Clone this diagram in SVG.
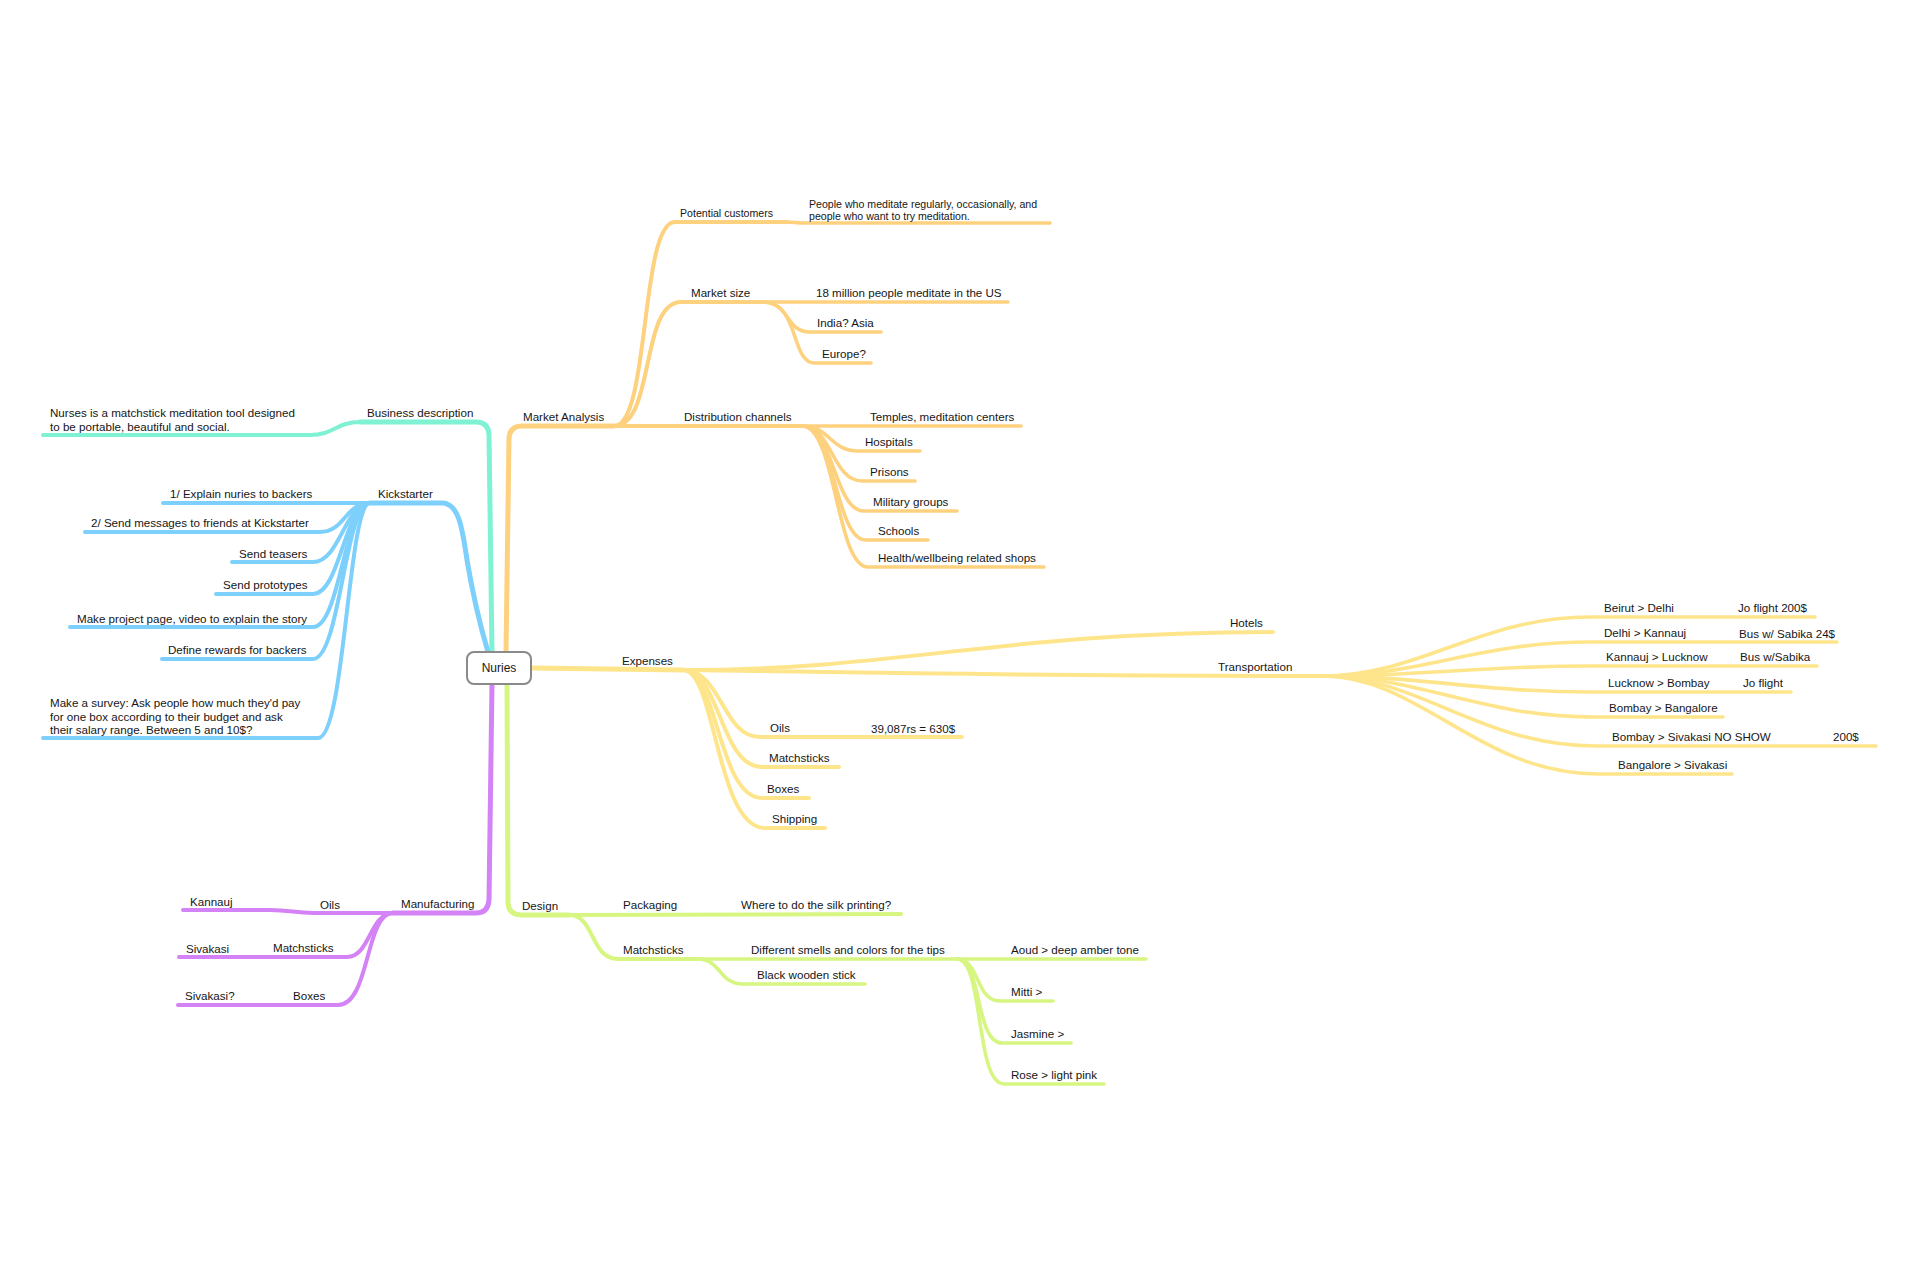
<svg xmlns="http://www.w3.org/2000/svg" width="1920" height="1280" viewBox="0 0 1920 1280">
<style>
text{font-family:"Liberation Sans",Arial,Helvetica,sans-serif;font-size:11.6px;fill:#161616}
.sm{font-size:10.6px}
.ln{fill:none;stroke-linecap:round;stroke-linejoin:round;stroke-width:4}
.l1{stroke-width:5}
.l3{stroke-width:3.6}
.teal{stroke:#7EF2D2}
.blue{stroke:#7DD0FB}
.orange{stroke:#FDD17E}
.yellow{stroke:#FEE58C}
.green{stroke:#D6F681}
.purple{stroke:#D483F6}
</style>
<rect width="1920" height="1280" fill="#ffffff"/>
<g id="connectors">
<!-- teal -->
<path class="ln l1 teal" d="M492 652 L489 434 Q488 422 476 422 L360 422"/>
<path class="ln teal" d="M360 422 C336 422 334 435 310 435 L43 435"/>
<!-- blue -->
<path class="ln l1 blue" d="M488 652 C480 625 472 590 467 560 C462 525 458 503 442 503 L370 503"/>
<path class="ln blue" d="M370 503 L163 503"/>
<path class="ln blue" d="M370 503 C345 503 345 532 320 532 L85 532"/>
<path class="ln blue" d="M370 503 C345 503 340 562 313 562 L232 562"/>
<path class="ln blue" d="M370 503 C345 503 340 594 313 594 L216 594"/>
<path class="ln blue" d="M370 503 C345 503 340 627 313 627 L70 627"/>
<path class="ln blue" d="M370 503 C345 503 340 659 313 659 L162 659"/>
<path class="ln blue" d="M370 503 C348 503 345 738 318 738 L43 738"/>
<!-- orange -->
<path class="ln l1 orange" d="M506 652 L509 438 Q510 426 522 426 L614 426"/>
<path class="ln orange" d="M614 426 C650 426 640 222 675 222 L787 222"/>
<path class="ln l3 orange" d="M787 222 C795 222 795 223 803 223 L1050 223"/>
<path class="ln orange" d="M614 426 C655 426 640 302 681 302 L763 302"/>
<path class="ln l3 orange" d="M763 302 L1008 302"/>
<path class="ln l3 orange" d="M763 302 C790 302 785 332 810 332 L881 332"/>
<path class="ln l3 orange" d="M763 302 C800 302 790 363 815 363 L871 363"/>
<path class="ln orange" d="M614 426 L802 426"/>
<path class="ln l3 orange" d="M802 426 L1021 426"/>
<path class="ln l3 orange" d="M802 426 C830 426 830 451 858 451 L920 451"/>
<path class="ln l3 orange" d="M802 426 C832 426 832 481 862 481 L915 481"/>
<path class="ln l3 orange" d="M802 426 C834 426 834 511 864 511 L957 511"/>
<path class="ln l3 orange" d="M802 426 C835 426 835 540 866 540 L928 540"/>
<path class="ln l3 orange" d="M802 426 C836 426 836 567 868 567 L1044 567"/>
<!-- yellow -->
<path class="ln l1 yellow" d="M531 668 L683 670"/>
<path class="ln yellow" d="M683 670 C900 670 1000 632 1273 632"/>
<path class="ln yellow" d="M683 670 C850 672 1000 676 1322 676"/>
<path class="ln l3 yellow" d="M1322 676 C1420 676 1480 617 1590 617 L1815 617"/>
<path class="ln l3 yellow" d="M1322 676 C1420 676 1480 642 1590 642 L1837 642"/>
<path class="ln l3 yellow" d="M1322 676 C1420 676 1480 666 1590 666 L1817 666"/>
<path class="ln l3 yellow" d="M1322 676 C1420 676 1480 692 1592 692 L1791 692"/>
<path class="ln l3 yellow" d="M1322 676 C1420 676 1480 717 1594 717 L1723 717"/>
<path class="ln l3 yellow" d="M1322 676 C1420 676 1480 746 1596 746 L1876 746"/>
<path class="ln l3 yellow" d="M1322 676 C1420 676 1480 774 1598 774 L1732 774"/>
<path class="ln yellow" d="M683 670 C722 670 722 737 760 737 L962 737"/>
<path class="ln yellow" d="M683 670 C720 670 720 767 762 767 L839 767"/>
<path class="ln yellow" d="M683 670 C718 670 718 798 762 798 L809 798"/>
<path class="ln yellow" d="M683 670 C716 670 716 828 765 828 L825 828"/>
<!-- green -->
<path class="ln l1 green" d="M507 684 L508 903 Q509 915 521 915 L569 915"/>
<path class="ln green" d="M569 915 L901 914"/>
<path class="ln green" d="M569 915 C595 915 590 959 618 959 L697 959"/>
<path class="ln l3 green" d="M697 959 L957 959"/>
<path class="ln l3 green" d="M697 959 C722 959 718 984 743 984 L865 984"/>
<path class="ln l3 green" d="M957 959 L1146 959"/>
<path class="ln l3 green" d="M957 959 C980 959 975 1001 1000 1001 L1053 1001"/>
<path class="ln l3 green" d="M957 959 C982 959 975 1043 1002 1043 L1071 1043"/>
<path class="ln l3 green" d="M957 959 C984 959 975 1084 1004 1084 L1104 1084"/>
<!-- purple -->
<path class="ln l1 purple" d="M492 684 L489 900 Q488 913 476 913 L393 913"/>
<path class="ln purple" d="M393 913 L313 913 C295 913 290 910 270 910 L183 910"/>
<path class="ln purple" d="M393 913 C370 913 370 957 347 957 L179 957"/>
<path class="ln purple" d="M393 913 C365 913 370 1005 338 1005 L178 1005"/>
</g>
<g id="nuries">
<rect x="467" y="652" width="64" height="32" rx="7" fill="#ffffff" stroke="#8a8a8a" stroke-width="2"/>
<text x="499" y="672" text-anchor="middle" style="font-size:12px">Nuries</text>
</g>
<g id="business-description">
<text x="367" y="417">Business description</text>
</g>
<g id="business-text">
<text x="50" y="417">Nurses is a matchstick meditation tool designed</text>
<text x="50" y="431">to be portable, beautiful and social.</text>
</g>
<g id="kickstarter"><text x="378" y="498">Kickstarter</text></g>
<g id="ks-1"><text x="170" y="498">1/ Explain nuries to backers</text></g>
<g id="ks-2"><text x="91" y="527">2/ Send messages to friends at Kickstarter</text></g>
<g id="ks-3"><text x="239" y="558">Send teasers</text></g>
<g id="ks-4"><text x="223" y="589">Send prototypes</text></g>
<g id="ks-5"><text x="77" y="623">Make project page, video to explain the story</text></g>
<g id="ks-6"><text x="168" y="654">Define rewards for backers</text></g>
<g id="ks-7">
<text x="50" y="707">Make a survey: Ask people how much they'd pay</text>
<text x="50" y="721">for one box according to their budget and ask</text>
<text x="50" y="734">their salary range. Between 5 and 10$?</text>
</g>
<g id="market-analysis"><text x="523" y="421">Market Analysis</text></g>
<g id="potential-customers"><text class="sm" x="680" y="217">Potential customers</text></g>
<g id="people"><text class="sm" x="809" y="208">People who meditate regularly, occasionally, and</text><text class="sm" x="809" y="220">people who want to try meditation.</text></g>
<g id="market-size"><text x="691" y="297">Market size</text></g>
<g id="ms-us"><text x="816" y="297">18 million people meditate in the US</text></g>
<g id="ms-india"><text x="817" y="327">India? Asia</text></g>
<g id="ms-europe"><text x="822" y="358">Europe?</text></g>
<g id="distribution"><text x="684" y="421">Distribution channels</text></g>
<g id="dc-temples"><text x="870" y="421">Temples, meditation centers</text></g>
<g id="dc-hospitals"><text x="865" y="446">Hospitals</text></g>
<g id="dc-prisons"><text x="870" y="476">Prisons</text></g>
<g id="dc-military"><text x="873" y="506">Military groups</text></g>
<g id="dc-schools"><text x="878" y="535">Schools</text></g>
<g id="dc-health"><text x="878" y="562">Health/wellbeing related shops</text></g>
<g id="expenses"><text x="622" y="665">Expenses</text></g>
<g id="hotels"><text x="1230" y="627">Hotels</text></g>
<g id="transportation"><text x="1218" y="671">Transportation</text></g>
<g id="tr-1"><text x="1604" y="612">Beirut &gt; Delhi</text><text x="1738" y="612">Jo flight 200$</text></g>
<g id="tr-2"><text x="1604" y="637">Delhi &gt; Kannauj</text><text x="1739" y="638">Bus w/ Sabika 24$</text></g>
<g id="tr-3"><text x="1606" y="661">Kannauj &gt; Lucknow</text><text x="1740" y="661">Bus w/Sabika</text></g>
<g id="tr-4"><text x="1608" y="687">Lucknow &gt; Bombay</text><text x="1743" y="687">Jo flight</text></g>
<g id="tr-5"><text x="1609" y="712">Bombay &gt; Bangalore</text></g>
<g id="tr-6"><text x="1612" y="741">Bombay &gt; Sivakasi NO SHOW</text><text x="1833" y="741">200$</text></g>
<g id="tr-7"><text x="1618" y="769">Bangalore &gt; Sivakasi</text></g>
<g id="ex-oils"><text x="770" y="732">Oils</text><text x="871" y="733">39,087rs = 630$</text></g>
<g id="ex-matchsticks"><text x="769" y="762">Matchsticks</text></g>
<g id="ex-boxes"><text x="767" y="793">Boxes</text></g>
<g id="ex-shipping"><text x="772" y="823">Shipping</text></g>
<g id="design"><text x="522" y="910">Design</text></g>
<g id="packaging"><text x="623" y="909">Packaging</text><text x="741" y="909">Where to do the silk printing?</text></g>
<g id="d-matchsticks"><text x="623" y="954">Matchsticks</text></g>
<g id="d-smells"><text x="751" y="954">Different smells and colors for the tips</text></g>
<g id="d-black"><text x="757" y="979">Black wooden stick</text></g>
<g id="d-aoud"><text x="1011" y="954">Aoud &gt; deep amber tone</text></g>
<g id="d-mitti"><text x="1011" y="996">Mitti &gt;</text></g>
<g id="d-jasmine"><text x="1011" y="1038">Jasmine &gt;</text></g>
<g id="d-rose"><text x="1011" y="1079">Rose &gt; light pink</text></g>
<g id="manufacturing"><text x="401" y="908">Manufacturing</text></g>
<g id="m-oils"><text x="320" y="909">Oils</text><text x="190" y="906">Kannauj</text></g>
<g id="m-matchsticks"><text x="273" y="952">Matchsticks</text><text x="186" y="953">Sivakasi</text></g>
<g id="m-boxes"><text x="293" y="1000">Boxes</text><text x="185" y="1000">Sivakasi?</text></g>
</svg>
